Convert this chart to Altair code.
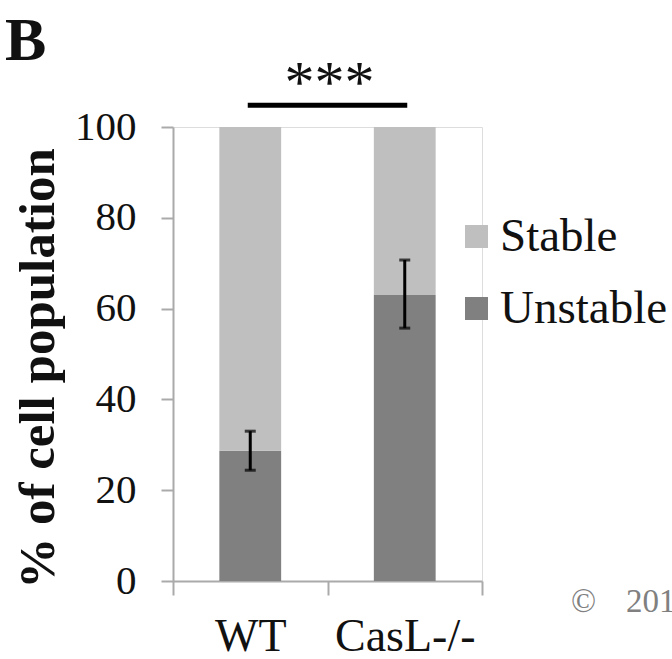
import altair as alt
import pandas as pd

# ---- data ----
groups = ["WT", "CasL-/-"]
categories = ["Stable", "Unstable"]
unstable = [28.7, 63.0]
stable = [71.3, 37.0]
err_low = [24.4, 55.7]
err_high = [33.0, 70.7]
y_ticks = [0, 20, 40, 60, 80, 100]
sig_pair = ["WT", "CasL-/-"]
sig_level = 104.8
star_label = "***"
star_level = 104.8
panel_label = "B"
copyright_parts = ["©", "201"]

colors = ["#bfbfbf", "#808080"]
FONT = "Liberation Serif"
AX = "#aaaaaa"

rows = []
for g, u, s in zip(groups, unstable, stable):
    rows.append({"group": g, "category": "Unstable", "value": u, "ord": 0})
    rows.append({"group": g, "category": "Stable", "value": s, "ord": 1})
bars_df = pd.DataFrame(rows)
err_df = pd.DataFrame({"group": groups, "lo": err_low, "hi": err_high})
sig_df = pd.DataFrame({"group": sig_pair, "level": [sig_level] * len(sig_pair)})
star_df = pd.DataFrame({"group": [sig_pair[0]], "level": [star_level], "t": [star_label]})


def xenc(**kw):
    return alt.X(
        "group:N",
        sort=groups,
        scale=alt.Scale(domain=groups, paddingInner=0, paddingOuter=0),
        axis=alt.Axis(
            title=None, labelAngle=0, labelFontSize=46, labelFont=FONT,
            labelColor="#111111", labelPadding=19, tickBand="extent",
            tickSize=14, tickColor=AX, tickWidth=2, domainColor=AX,
            domainWidth=2,
        ),
        **kw,
    )


def yaxis():
    return alt.Axis(
        title="% of cell population", values=y_ticks, grid=False,
        labelFontSize=41, labelFont=FONT, labelColor="#111111",
        labelPadding=25, tickSize=12, tickColor=AX, tickWidth=2,
        domainColor=AX, domainWidth=2,
        titleFont=FONT, titleFontSize=51, titleFontWeight="bold",
        titleColor="#111111", titleAngle=-90, titleX=-120, titleY=241,
        titleAlign="center", titleBaseline="alphabetic",
    )


yscale = alt.Scale(domain=[0, 100], nice=False)

bars = alt.Chart(bars_df).mark_bar(width=alt.RelativeBandSize(0.4)).encode(
    x=xenc(),
    y=alt.Y("value:Q", stack="zero", scale=yscale, axis=yaxis()),
    color=alt.Color(
        "category:N",
        scale=alt.Scale(domain=categories, range=colors),
        legend=alt.Legend(
            orient="none", legendX=280, legendY=86, title=None,
            symbolType="square", symbolSize=529, symbolStrokeWidth=0,
            symbolOpacity=1, labelFontSize=47, labelFont=FONT,
            labelColor="#111111", labelOffset=0, labelLimit=400,
            rowPadding=24, padding=0,
        ),
    ),
    order=alt.Order("ord:Q"),
)

err_rule = alt.Chart(err_df).mark_rule(color="black", strokeWidth=3).encode(
    x=xenc(),
    y=alt.Y("lo:Q", scale=yscale, axis=yaxis()),
    y2="hi:Q",
)
cap_lo = alt.Chart(err_df).mark_tick(color="black", size=11, thickness=3, orient="horizontal").encode(
    x=xenc(), y=alt.Y("lo:Q", scale=yscale, axis=yaxis())
)
cap_hi = alt.Chart(err_df).mark_tick(color="black", size=11, thickness=3, orient="horizontal").encode(
    x=xenc(), y=alt.Y("hi:Q", scale=yscale, axis=yaxis())
)

sig_line = alt.Chart(sig_df).mark_line(color="black", strokeWidth=5, strokeCap="square", clip=False).encode(
    x=xenc(), y=alt.Y("level:Q", scale=yscale, axis=yaxis())
)

stars = alt.Chart(star_df).mark_text(
    font=FONT, fontSize=60, color="#111111", baseline="alphabetic",
    align="center", dx=2, dy=-3, clip=False,
).encode(
    x=xenc(bandPosition=1),
    y=alt.Y("level:Q", scale=yscale, axis=yaxis()),
    text="t:N",
)

label_b = alt.Chart(pd.DataFrame({"t": [panel_label]})).mark_text(
    font=FONT, fontSize=62, fontWeight="bold", color="#111111",
    align="left", baseline="alphabetic",
).encode(text="t:N", x=alt.value(-168), y=alt.value(-67))

copy_df = pd.DataFrame({"t": copyright_parts, "px": [398, 453]})
copy_txt = alt.Chart(copy_df).mark_text(
    font=FONT, fontSize=33, color="#808080", align="left", baseline="alphabetic",
).encode(text="t:N", x=alt.X("px:Q", scale=None), y=alt.value(485))

chart = alt.layer(
    bars, err_rule, cap_lo, cap_hi, sig_line, stars, label_b, copy_txt
).properties(
    width=309, height=454,
    autosize=alt.AutoSizeParams(type="none"),
    padding={"left": 173, "top": 127, "right": 190, "bottom": 78},
    background="white",
).configure_view(stroke=None).configure(font=FONT)

chart.save("out.html", embed_options={"renderer": "svg", "actions": False})
